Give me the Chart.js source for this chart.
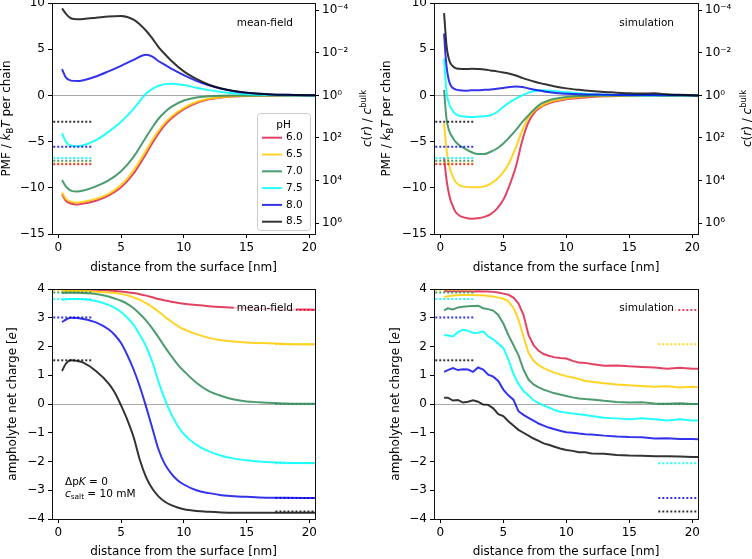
<!DOCTYPE html>
<html>
<head>
<meta charset="utf-8">
<script src="https://cdn.jsdelivr.net/npm/chart.js@4.4.1/dist/chart.umd.min.js"></script>
<style>
html,body{margin:0;padding:0;background:#fff;overflow:hidden;}
#wrap{position:relative;width:752px;height:559px;background:#fff;}
canvas{position:absolute;display:block;}
</style>
</head>
<body>
<div id="wrap">
<canvas id="pTL" width="376" height="280" style="left:0px;top:0px;width:376px;height:280px"></canvas>
<canvas id="pTR" width="376" height="280" style="left:376px;top:0px;width:376px;height:280px"></canvas>
<canvas id="pBL" width="376" height="279" style="left:0px;top:280px;width:376px;height:279px"></canvas>
<canvas id="pBR" width="376" height="279" style="left:376px;top:280px;width:376px;height:279px"></canvas>
</div>
<script>
// ---------------- data ----------------
const phLabels = ['6.0','6.5','7.0','7.5','8.0','8.5'];

const xTickValues = [0, 5, 10, 15, 20];
const pmfTickValues = [-15, -10, -5, 0, 5, 10];
const chargeTickValues = [-4, -3, -2, -1, 0, 1, 2, 3, 4];
const concExponents = [-4, -2, 0, 2, 4, 6];
const concTickLabels = ['10⁻⁴', '10⁻²', '10⁰', '10²', '10⁴', '10⁶'];

// reference (dotted) levels, per pH
const refLeftX = [-0.4, 2.65];
const refRightX = [17.3, 20.5];
const refPMF = [-7.45, -7.38, -7.08, -6.77, -5.55, -2.85];
const refChargeSurface = [4.0, 3.97, 3.88, 3.65, 3.01, 1.52];
const refChargeBulk = [3.27, 2.08, 0.0, -2.06, -3.27, -3.74];

// mean-field PMF
const xMF = [0.3, 0.6, 1.0, 1.5, 2, 3, 4, 5, 6, 7, 7.5, 8, 8.5, 9, 10, 11, 12, 13, 14, 15, 16, 17, 18, 20, 20.5];
const pmfMF60 = [-10.7, -11.4, -11.7, -11.8, -11.7, -11.4, -10.85, -9.95, -8.45, -6.3, -5.15, -4.1, -3.2, -2.5, -1.5, -0.82, -0.43, -0.22, -0.12, -0.06, -0.03, -0.02, -0.01, 0, 0];
const pmfMF65 = [-10.5, -11.2, -11.5, -11.6, -11.5, -11.2, -10.65, -9.7, -8.1, -5.95, -4.8, -3.8, -2.95, -2.3, -1.35, -0.72, -0.37, -0.19, -0.1, -0.05, -0.03, -0.02, -0.01, 0, 0];
const pmfMF70 = [-9.15, -9.85, -10.3, -10.4, -10.3, -9.85, -9.2, -8.2, -6.65, -4.5, -3.45, -2.5, -1.8, -1.25, -0.55, -0.22, -0.1, -0.04, -0.02, -0.01, 0, 0, 0, 0, 0];
const pmfMF75 = [-4.1, -5.0, -5.45, -5.5, -5.4, -4.85, -3.95, -2.85, -1.45, 0.2, 0.7, 1.05, 1.22, 1.27, 1.12, 0.83, 0.57, 0.37, 0.23, 0.13, 0.07, 0.04, 0.02, 0, 0];
const pmfMF80 = [2.85, 1.95, 1.6, 1.55, 1.65, 2.05, 2.6, 3.2, 3.85, 4.4, 4.2, 3.7, 3.3, 2.9, 2.2, 1.58, 1.08, 0.72, 0.46, 0.28, 0.17, 0.1, 0.06, 0.02, 0.02];
const pmfMF85 = [9.42, 8.85, 8.35, 8.25, 8.27, 8.4, 8.55, 8.6, 8.2, 7.0, 6.15, 5.2, 4.45, 3.75, 2.6, 1.78, 1.15, 0.75, 0.48, 0.3, 0.18, 0.11, 0.07, 0.02, 0.02];

// simulation PMF
const xSim = [0.3, 0.4, 0.5, 0.65, 0.8, 1.0, 1.2, 1.5, 2, 2.5, 3, 3.5, 4, 4.5, 5, 5.5, 6, 6.5, 7, 7.5, 8, 8.5, 9, 10, 11, 12, 13, 14, 15, 16, 17, 18, 19, 20, 20.5];
const pmfSim60 = [-6.7, -8.0, -9.2, -10.4, -11.3, -12.0, -12.6, -13.0, -13.25, -13.35, -13.3, -13.15, -12.85, -12.25, -11.3, -9.7, -7.7, -4.9, -2.9, -1.8, -1.25, -0.92, -0.7, -0.43, -0.29, -0.18, -0.1, -0.06, -0.04, -0.02, -0.01, 0, 0, 0, 0];
const pmfSim65 = [-3.0, -4.6, -5.9, -7.2, -8.1, -8.8, -9.35, -9.7, -9.9, -9.95, -9.95, -9.85, -9.55, -9.05, -8.3, -7.2, -5.6, -3.8, -2.4, -1.6, -1.15, -0.8, -0.58, -0.33, -0.18, -0.1, -0.06, -0.04, -0.02, -0.01, 0, 0, 0, 0, 0];
const pmfSim70 = [0.6, -1.2, -2.6, -3.6, -4.15, -4.6, -5.0, -5.4, -5.8, -6.15, -6.35, -6.35, -6.1, -5.75, -5.2, -4.5, -3.75, -2.9, -2.15, -1.45, -0.9, -0.6, -0.4, -0.18, -0.07, -0.03, -0.01, 0, 0, 0, 0, 0, 0, 0, 0];
const pmfSim75 = [4.0, 2.0, 0.3, -0.7, -1.25, -1.7, -2.0, -2.2, -2.3, -2.33, -2.3, -2.25, -2.15, -1.8, -1.25, -0.75, -0.35, 0.0, 0.3, 0.48, 0.55, 0.52, 0.47, 0.33, 0.22, 0.12, 0.06, 0.03, 0.01, 0, 0, 0, 0, 0, 0];
const pmfSim80 = [6.7, 4.6, 3.1, 1.8, 1.15, 0.8, 0.65, 0.55, 0.5, 0.55, 0.55, 0.6, 0.65, 0.72, 0.8, 0.9, 0.95, 0.9, 0.75, 0.62, 0.5, 0.38, 0.28, 0.18, 0.12, 0.1, 0.07, 0.05, 0.05, 0.04, 0.03, 0.02, 0.01, 0, 0];
const pmfSim85 = [8.9, 7.0, 5.3, 4.1, 3.5, 3.15, 2.95, 2.88, 2.85, 2.88, 2.85, 2.8, 2.7, 2.6, 2.48, 2.35, 2.15, 1.9, 1.68, 1.48, 1.3, 1.15, 1.0, 0.76, 0.6, 0.47, 0.37, 0.3, 0.22, 0.2, 0.22, 0.12, 0.06, 0.02, 0.0];

// mean-field charge
const xMF2 = [0.3, 0.6, 1, 1.5, 2, 3, 4, 4.5, 5, 5.5, 6, 6.5, 7, 7.5, 8, 8.5, 9, 9.5, 10, 11, 12, 13, 14, 15, 16, 18, 20.5];
const chgMF60 = [3.98, 3.98, 3.98, 3.98, 3.98, 3.97, 3.95, 3.93, 3.91, 3.89, 3.86, 3.82, 3.77, 3.71, 3.65, 3.6, 3.56, 3.52, 3.49, 3.44, 3.4, 3.37, 3.35, 3.33, 3.31, 3.29, 3.28];
const chgMF65 = [3.93, 3.93, 3.93, 3.93, 3.92, 3.9, 3.88, 3.86, 3.83, 3.78, 3.71, 3.62, 3.51, 3.37, 3.21, 3.03, 2.87, 2.72, 2.6, 2.43, 2.3, 2.22, 2.17, 2.14, 2.12, 2.09, 2.08];
const chgMF70 = [3.86, 3.87, 3.87, 3.87, 3.86, 3.83, 3.74, 3.67, 3.59, 3.48, 3.33, 3.13, 2.9, 2.62, 2.31, 1.98, 1.67, 1.38, 1.15, 0.74, 0.45, 0.28, 0.16, 0.09, 0.06, 0.02, 0.01];
const chgMF75 = [3.62, 3.64, 3.65, 3.65, 3.64, 3.58, 3.45, 3.34, 3.2, 3.0, 2.75, 2.4, 2.0, 1.45, 0.75, 0.15, -0.35, -0.75, -1.05, -1.42, -1.65, -1.8, -1.9, -1.96, -2.0, -2.04, -2.05];
const chgMF80 = [2.85, 2.93, 3.0, 2.99, 2.96, 2.84, 2.6, 2.4, 2.12, 1.7, 1.2, 0.6, -0.1, -0.85, -1.6, -2.1, -2.42, -2.65, -2.8, -3.0, -3.1, -3.17, -3.21, -3.23, -3.25, -3.26, -3.27];
const chgMF85 = [1.15, 1.4, 1.52, 1.5, 1.44, 1.15, 0.72, 0.4, -0.05, -0.55, -1.15, -1.95, -2.55, -2.95, -3.22, -3.4, -3.52, -3.6, -3.66, -3.72, -3.75, -3.77, -3.78, -3.78, -3.78, -3.78, -3.78];

// simulation charge
const xSim2 = [0.3, 0.6, 1.0, 1.4, 1.8, 2.2, 2.6, 3.0, 3.4, 3.8, 4.2, 4.6, 5.0, 5.4, 5.8, 6.2, 6.6, 7.0, 7.4, 7.8, 8.2, 8.6, 9.0, 9.5, 10, 10.5, 11, 11.5, 12, 13, 14, 15, 16, 17, 18, 19, 20, 20.5];
const chgSim60 = [3.93, 3.92, 3.92, 3.92, 3.92, 3.92, 3.91, 3.92, 3.91, 3.91, 3.9, 3.88, 3.84, 3.8, 3.7, 3.5, 3.1, 2.4, 2.05, 1.85, 1.74, 1.68, 1.63, 1.6, 1.58, 1.5, 1.44, 1.43, 1.39, 1.33, 1.34, 1.31, 1.29, 1.27, 1.23, 1.26, 1.23, 1.23];
const chgSim65 = [3.72, 3.75, 3.77, 3.78, 3.79, 3.79, 3.79, 3.78, 3.78, 3.76, 3.74, 3.7, 3.66, 3.57, 3.35, 2.95, 2.35, 1.78, 1.5, 1.35, 1.25, 1.17, 1.1, 1.03, 0.97, 0.92, 0.87, 0.8, 0.77, 0.72, 0.68, 0.65, 0.63, 0.6, 0.62, 0.57, 0.6, 0.58];
const chgSim70 = [3.26, 3.33, 3.29, 3.36, 3.38, 3.4, 3.41, 3.42, 3.33, 3.3, 3.25, 3.1, 2.8, 2.4, 2.05, 1.7, 1.2, 0.85, 0.68, 0.58, 0.5, 0.44, 0.38, 0.33, 0.28, 0.23, 0.19, 0.17, 0.16, 0.11, 0.07, 0.05, 0.06, 0.02, 0.01, 0.03, 0.0, 0.0];
const chgSim75 = [2.4, 2.38, 2.35, 2.5, 2.58, 2.55, 2.47, 2.48, 2.53, 2.35, 2.25, 2.1, 1.95, 1.55, 1.05, 0.7, 0.45, 0.3, 0.13, 0.03, -0.05, -0.12, -0.2, -0.27, -0.3, -0.33, -0.36, -0.38, -0.42, -0.48, -0.5, -0.53, -0.5, -0.53, -0.57, -0.53, -0.57, -0.57];
const chgSim80 = [1.12, 1.18, 1.25, 1.18, 1.21, 1.2, 1.12, 1.27, 1.2, 1.02, 0.95, 0.8, 0.5, 0.3, 0.15, -0.25, -0.38, -0.48, -0.58, -0.68, -0.75, -0.82, -0.87, -0.93, -0.98, -1.0, -1.03, -1.05, -1.06, -1.1, -1.13, -1.15, -1.16, -1.2, -1.19, -1.22, -1.22, -1.23];
const chgSim85 = [0.22, 0.22, 0.12, 0.14, 0.05, 0.08, 0.13, 0.08, -0.02, -0.03, -0.15, -0.35, -0.42, -0.6, -0.75, -0.9, -1.0, -1.1, -1.2, -1.28, -1.37, -1.42, -1.48, -1.55, -1.6, -1.63, -1.68, -1.68, -1.72, -1.73, -1.77, -1.79, -1.8, -1.82, -1.82, -1.83, -1.84, -1.84];

// ---------------- styles ----------------
const lineColors = ['rgba(220,20,60,0.8)', 'rgba(255,205,0,0.85)', 'rgba(46,139,87,0.85)', 'rgba(0,255,255,0.85)', 'rgba(0,0,230,0.8)', 'rgba(0,0,0,0.8)'];
const FONTFAM = "'DejaVu Sans', sans-serif";
const zeroLineColor = '#aaaaaa';
const X_MIN = -0.5, X_MAX = 20.45;

// ---------------- helpers ----------------
function pts(xs, ys) { return xs.map((x, i) => ({ x: x, y: ys[i] })); }
function curveSets(xs, series, smooth) {
  const out = [];
  for (let i = series.length - 1; i >= 0; i--) {
    out.push({ data: pts(xs, series[i]), borderColor: lineColors[i], borderWidth: 2, pointRadius: 0,
      cubicInterpolationMode: smooth ? 'monotone' : 'default', tension: 0, fill: false });
  }
  return out;
}
function refSets(xr, vals) {
  return vals.map((v, i) => ({ data: xr.map(x => ({ x: x, y: v })), borderColor: lineColors[i],
    borderWidth: 2, borderDash: [2, 2], pointRadius: 0, fill: false, tension: 0 }));
}
function fmtNum(v) { return v < 0 ? '\u2212' + Math.abs(v) : String(v); }
function fontStr(size, italic) { return (italic ? 'italic ' : '') + size + 'px ' + FONTFAM; }
function segSize(s, size) { return (s.sub || s.sup) ? size * 0.7 : size; }
function richWidth(ctx, segs, size) {
  let w = 0;
  segs.forEach(s => { ctx.font = fontStr(segSize(s, size), s.i); w += ctx.measureText(s.t).width; });
  return w;
}
function drawRich(ctx, segs, x, y, size, align) {
  const w = richWidth(ctx, segs, size);
  let cx = align === 'center' ? x - w / 2 : (align === 'right' ? x - w : x);
  ctx.textBaseline = 'middle'; ctx.textAlign = 'left'; ctx.fillStyle = '#000';
  segs.forEach(s => {
    const sz = segSize(s, size);
    ctx.font = fontStr(sz, s.i);
    const dy = s.sub ? size * 0.3 : (s.sup ? -size * 0.38 : 0);
    ctx.fillText(s.t, cx, y + dy);
    cx += ctx.measureText(s.t).width;
  });
  return w;
}

const pmfLabel = [{ t: 'PMF / ' }, { t: 'k', i: 1 }, { t: 'B', sub: 1 }, { t: 'T', i: 1 }, { t: ' per chain' }];
const concLabel = [{ t: 'c', i: 1 }, { t: '(' }, { t: 'r', i: 1 }, { t: ') / ' }, { t: 'c', i: 1 }, { t: 'bulk', sup: 1 }];
const chargeLabel = [{ t: 'ampholyte net charge [' }, { t: 'e', i: 1 }, { t: ']' }];
const xAxisLabel = [{ t: 'distance from the surface [nm]' }];
const dpkLabel = [{ t: '\u0394p' }, { t: 'K', i: 1 }, { t: ' = 0' }];
const csaltLabel = [{ t: 'c', i: 1 }, { t: 'salt', sub: 1 }, { t: ' = 10 mM' }];

const decor = {
  id: 'decor',
  afterDraw(chart, args, o) {
    const ctx = chart.ctx, a = chart.chartArea;
    ctx.save();
    // frame
    const L = Math.round(a.left - 0.5) + 0.5, R = Math.round(a.right - 0.5) + 0.5;
    const T = Math.round(a.top - 0.5) + 0.5, B = Math.round(a.bottom - 0.5) + 0.5;
    ctx.strokeStyle = '#111'; ctx.lineWidth = 1;
    ctx.strokeRect(L, T, R - L, B - T);
    // notes
    (o.notes || []).forEach(n => {
      const size = n.size || 10.5;
      if (n.box) {
        const w = richWidth(ctx, n.segs, size);
        const x0 = n.align === 'right' ? n.x - w : n.x;
        ctx.fillStyle = 'rgba(255,255,255,0.75)';
        ctx.fillRect(x0 - 3, n.y - size * 0.65, w + 6, size * 1.3);
      }
      drawRich(ctx, n.segs, n.x, n.y, size, n.align || 'left');
    });
    // legend
    if (o.legend) {
      const g = o.legend;
      ctx.beginPath();
      if (ctx.roundRect) ctx.roundRect(g.x + 0.5, g.y + 0.5, g.w, g.h, 3); else ctx.rect(g.x + 0.5, g.y + 0.5, g.w, g.h);
      ctx.fillStyle = 'rgba(255,255,255,0.85)'; ctx.fill();
      ctx.strokeStyle = '#cccccc'; ctx.lineWidth = 1; ctx.stroke();
      drawRich(ctx, [{ t: 'pH' }], g.x + g.w / 2, g.y + 12, 10.5, 'center');
      phLabels.forEach((lab, i) => {
        const yy = g.y + 24.7 + i * 16.8;
        ctx.strokeStyle = lineColors[i]; ctx.lineWidth = 2; ctx.setLineDash([]);
        ctx.beginPath(); ctx.moveTo(g.x + 5, yy); ctx.lineTo(g.x + 25, yy); ctx.stroke();
        drawRich(ctx, [{ t: lab }], g.x + 29, yy, 10.5, 'left');
      });
    }
    // axis labels
    drawRich(ctx, xAxisLabel, (a.left + a.right) / 2, o.xLabelY, 12, 'center');
    const cy = (a.top + a.bottom) / 2;
    ctx.save(); ctx.translate(o.yLabelX, cy); ctx.rotate(-Math.PI / 2);
    drawRich(ctx, o.yLabel, 0, 0, 12, 'center'); ctx.restore();
    if (o.yRLabel) {
      ctx.save(); ctx.translate(o.yRLabelX, cy); ctx.rotate(-Math.PI / 2);
      drawRich(ctx, o.yRLabel, 0, 0, 12, 'center'); ctx.restore();
    }
    ctx.restore();
  }
};

function makeChart(id, c) {
  const tickFont = { family: FONTFAM, size: 12 };
  const scales = {
    x: {
      type: 'linear', min: X_MIN, max: X_MAX,
      afterBuildTicks: s => { s.ticks = xTickValues.map(v => ({ value: v })); },
      ticks: { autoSkip: false, maxRotation: 0, padding: 3, color: '#000', font: tickFont, callback: v => fmtNum(v) },
      grid: { drawOnChartArea: false, drawTicks: true, tickLength: 4, color: '#000', tickColor: '#000', lineWidth: 1 },
      border: { display: false },
      afterFit: s => { s.height = c.xH; s.paddingLeft = 0; s.paddingRight = 0; }
    },
    y: {
      type: 'linear', position: 'left', min: c.yMin, max: c.yMax,
      afterBuildTicks: s => { s.ticks = c.yTicks.map(v => ({ value: v })); },
      ticks: { autoSkip: false, padding: 3, color: '#000', font: tickFont, callback: v => fmtNum(v) },
      grid: { drawOnChartArea: true, drawTicks: true, tickLength: 4, tickColor: '#000', lineWidth: 1,
        color: g => (g.tick && g.tick.value === 0) ? zeroLineColor : 'rgba(0,0,0,0)' },
      border: { display: false },
      afterFit: s => { s.width = c.yLW; s.paddingTop = 0; s.paddingBottom = 0; }
    }
  };
  if (c.yRW) {
    scales.yR = {
      type: 'linear', position: 'right', min: c.yMin, max: c.yMax,
      afterBuildTicks: s => { s.ticks = concExponents.map(k => ({ value: -k * Math.LN10 })); },
      ticks: { autoSkip: false, padding: 3, color: '#000', font: tickFont, callback: (v, i) => concTickLabels[i] },
      grid: { drawOnChartArea: false, drawTicks: true, tickLength: 4, color: '#000', tickColor: '#000', lineWidth: 1 },
      border: { display: false },
      afterFit: s => { s.width = c.yRW; s.paddingTop = 0; s.paddingBottom = 0; }
    };
  }
  return new Chart(document.getElementById(id), {
    type: 'line',
    data: { datasets: c.datasets },
    options: {
      responsive: false, animation: false, devicePixelRatio: 1,
      layout: { padding: { top: c.top, right: c.padR || 0, bottom: 0, left: 0 } },
      plugins: { legend: { display: false }, tooltip: { enabled: false }, decor: c.decor },
      scales: scales
    },
    plugins: [decor]
  });
}

// top-left: mean-field PMF
makeChart('pTL', {
  top: 3, xH: 46, yLW: 52, yRW: 61, yMin: -15, yMax: 10, yTicks: pmfTickValues,
  datasets: refSets(refLeftX, refPMF).concat(curveSets(xMF, [pmfMF60, pmfMF65, pmfMF70, pmfMF75, pmfMF80, pmfMF85], true)),
  decor: {
    xLabelY: 268, yLabelX: 7, yLabel: pmfLabel, yRLabelX: 368, yRLabel: concLabel,
    notes: [{ segs: [{ t: 'mean-field' }], x: 293, y: 23, align: 'right' }],
    legend: { x: 257, y: 113, w: 53, h: 117 }
  }
});
// top-right: simulation PMF
makeChart('pTR', {
  top: 3, xH: 46, yLW: 58, yRW: 54, yMin: -15, yMax: 10, yTicks: pmfTickValues,
  datasets: refSets(refLeftX, refPMF).concat(curveSets(xSim, [pmfSim60, pmfSim65, pmfSim70, pmfSim75, pmfSim80, pmfSim85], true)),
  decor: {
    xLabelY: 268, yLabelX: 11, yLabel: pmfLabel, yRLabelX: 372, yRLabel: concLabel,
    notes: [{ segs: [{ t: 'simulation' }], x: 298, y: 23, align: 'right' }]
  }
});
// bottom-left: mean-field charge
makeChart('pBL', {
  top: 9, xH: 40, yLW: 52, padR: 61, yMin: -4, yMax: 4, yTicks: chargeTickValues,
  datasets: refSets(refLeftX, refChargeSurface).concat(refSets(refRightX, refChargeBulk))
    .concat(curveSets(xMF2, [chgMF60, chgMF65, chgMF70, chgMF75, chgMF80, chgMF85], true)),
  decor: {
    xLabelY: 272, yLabelX: 12.5, yLabel: chargeLabel,
    notes: [
      { segs: [{ t: 'mean-field' }], x: 293, y: 28, align: 'right', box: true },
      { segs: dpkLabel, x: 65, y: 202, align: 'left' },
      { segs: csaltLabel, x: 65, y: 214, align: 'left' }
    ]
  }
});
// bottom-right: simulation charge
makeChart('pBR', {
  top: 9, xH: 40, yLW: 58, padR: 54, yMin: -4, yMax: 4, yTicks: chargeTickValues,
  datasets: refSets(refLeftX, refChargeSurface).concat(refSets(refRightX, refChargeBulk))
    .concat(curveSets(xSim2, [chgSim60, chgSim65, chgSim70, chgSim75, chgSim80, chgSim85], false)),
  decor: {
    xLabelY: 272, yLabelX: 19.5, yLabel: chargeLabel,
    notes: [{ segs: [{ t: 'simulation' }], x: 298, y: 28, align: 'right', box: true }]
  }
});
</script>
</body>
</html>
